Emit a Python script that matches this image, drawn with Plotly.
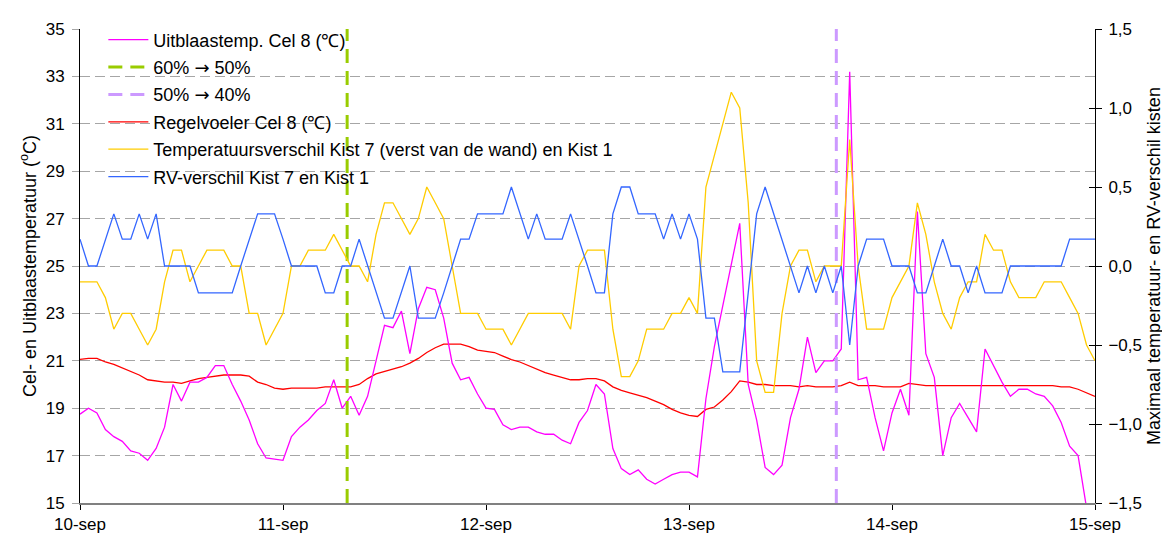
import pandas as pd
import plotly.graph_objects as go

# hourly readings from 10-sep 00:00
start = pd.Timestamp("2009-09-10 00:00")

uitblaas = [18.75, 19.0, 18.8, 18.1, 17.8, 17.6, 17.2, 17.1, 16.8, 17.3,
            18.2, 20.0, 19.3, 20.1, 20.1, 20.3, 20.8, 20.8, 20.0, 19.3,
            18.5, 17.5, 16.9, 16.85, 16.8,
            17.8, 18.2, 18.5, 18.9, 19.2, 20.2, 19.0, 19.5, 18.7, 19.5,
            21.0, 22.5, 22.4, 23.1, 21.3, 23.2, 24.1, 24.0, 22.8, 20.9,
            20.2, 20.3, 19.6, 19.0,
            18.95, 18.3, 18.1, 18.2, 18.2, 18.0, 17.9, 17.9, 17.65, 17.5,
            18.4, 18.9, 20.0, 19.6, 17.3, 16.45, 16.2, 16.4, 16.0, 15.8,
            16.0, 16.2, 16.3, 16.3,
            16.1, 19.4, 21.6, 23.3, 25.0, 26.8, 20.0, 18.5, 16.5, 16.2,
            16.6, 18.6, 19.8, 22.0, 20.5, 21.0, 21.0, 21.5, 33.2, 20.2,
            20.3, 18.6, 17.2, 18.8,
            19.8, 18.7, 27.3, 21.3, 20.3, 17.0, 18.6, 19.2, 18.6, 18.0,
            21.5, 20.8, 20.1, 19.5, 19.8, 19.8, 19.6, 19.5, 19.1, 18.4,
            17.4, 17.0, 14.8]

regelvoeler = [21.06, 21.1, 21.1, 20.95, 20.85, 20.7, 20.55, 20.4, 20.2, 20.15,
               20.1, 20.1, 20.05, 20.15, 20.25, 20.3, 20.35, 20.4, 20.4, 20.4,
               20.35, 20.1, 20.0, 19.85, 19.8,
               19.85, 19.85, 19.85, 19.85, 19.9, 19.9, 19.9, 19.9, 20.0, 20.25,
               20.45, 20.55, 20.65, 20.75, 20.9, 21.1, 21.35, 21.55, 21.7, 21.7,
               21.7, 21.6, 21.45, 21.4,
               21.35, 21.2, 21.05, 20.95, 20.8, 20.65, 20.5, 20.4, 20.3, 20.2,
               20.2, 20.25, 20.25, 20.15, 19.9, 19.75, 19.65, 19.55, 19.45, 19.3,
               19.15, 18.95, 18.8, 18.7,
               18.65, 18.95, 19.05, 19.35, 19.7, 20.15, 20.1, 20.0, 20.0, 19.95,
               19.95, 19.95, 19.9, 19.95, 19.9, 19.9, 19.9, 19.95, 20.1, 19.95,
               19.95, 19.95, 19.9, 19.9,
               19.9, 20.05, 20.0, 19.95, 19.95, 19.95, 19.95, 19.95, 19.95, 19.95,
               19.95, 19.95, 19.95, 19.95, 19.95, 19.95, 19.95, 19.95, 19.95, 19.9,
               19.9, 19.8, 19.65, 19.5]

temp_verschil = [-0.1, -0.1, -0.1, -0.2, -0.4, -0.3, -0.3, -0.4, -0.5, -0.4,
                 -0.1, 0.1, 0.1, -0.1, 0.0, 0.1, 0.1, 0.1, 0.0, 0.0,
                 -0.3, -0.3, -0.5, -0.4, -0.3,
                 0.0, 0.0, 0.1, 0.1, 0.1, 0.2, 0.1, 0.0, 0.0, -0.1,
                 0.2, 0.4, 0.4, 0.3, 0.2, 0.3, 0.5, 0.4, 0.3, 0.0,
                 -0.3, -0.3, -0.3, -0.4,
                 -0.4, -0.4, -0.5, -0.4, -0.3, -0.3, -0.3, -0.3, -0.3, -0.4,
                 0.0, 0.1, 0.1, 0.1, -0.4, -0.7, -0.7, -0.6, -0.4, -0.4,
                 -0.4, -0.3, -0.3, -0.2,
                 -0.3, 0.5, 0.7, 0.9, 1.1, 1.0, 0.4, -0.6, -0.8, -0.8,
                 -0.3, 0.0, 0.1, 0.1, -0.1, 0.0, 0.0, 0.0, 0.8, 0.0,
                 -0.4, -0.4, -0.4, -0.2,
                 -0.1, 0.0, 0.4, 0.2, -0.1, -0.3, -0.4, -0.2, -0.1, -0.1,
                 0.2, 0.1, 0.1, -0.1, -0.2, -0.2, -0.2, -0.1, -0.1, -0.1,
                 -0.2, -0.3, -0.5, -0.6]

rv_verschil = [0.17, 0, 0, 0.17, 0.33, 0.17, 0.17, 0.33, 0.17, 0.33,
               0, 0, 0, 0, -0.17, -0.17, -0.17, -0.17, -0.17, 0,
               0.17, 0.33, 0.33, 0.33, 0.17,
               0, 0, 0, 0, -0.17, -0.17, 0, 0, 0.17, 0,
               -0.17, -0.33, -0.33, -0.17, 0, -0.33, -0.33, -0.33, -0.17, 0,
               0.17, 0.17, 0.33, 0.33,
               0.33, 0.33, 0.5, 0.33, 0.17, 0.33, 0.17, 0.17, 0.17, 0.33,
               0.17, 0, -0.17, -0.17, 0.33, 0.5, 0.5, 0.33, 0.33, 0.33,
               0.17, 0.33, 0.17, 0.33,
               0.17, -0.33, -0.33, -0.67, -0.67, -0.67, -0.17, 0.33, 0.5, 0.33,
               0.17, 0, -0.17, 0, -0.17, 0, -0.17, 0, -0.5, 0,
               0.17, 0.17, 0.17, 0,
               0, 0, -0.17, -0.17, 0, 0.17, 0, 0, -0.17, 0,
               -0.17, -0.17, -0.17, 0, 0, 0, 0, 0, 0, 0,
               0.17, 0.17, 0.17, 0.17]

switch_times = ["2009-09-11 07:35", "2009-09-13 17:25"]
ARROW = "<span style='font-family:DejaVu Sans'>\u2192</span>"
switch_names = ["60% " + ARROW + " 50%", "50% " + ARROW + " 40%"]

day_ticks = ["2009-09-10", "2009-09-11", "2009-09-12", "2009-09-13", "2009-09-14", "2009-09-15"]
day_labels = ["10-sep", "11-sep", "12-sep", "13-sep", "14-sep", "15-sep"]


def hours(values):
    return start + pd.to_timedelta(range(len(values)), unit="h")


FONT = "Arial, Liberation Sans, sans-serif"
TICK_FS = 17
TEXT_FS = 18

fig = go.Figure()

fig.add_trace(go.Scatter(x=hours(temp_verschil), y=temp_verschil, yaxis="y2", mode="lines",
                         name="Temperatuursverschil Kist 7 (verst van de wand) en Kist 1",
                         line=dict(color="#FFCC00", width=1.3), legendgroup="e", legendrank=5))
fig.add_trace(go.Scatter(x=hours(rv_verschil), y=rv_verschil, yaxis="y2", mode="lines",
                         name="RV-verschil Kist 7 en Kist 1",
                         line=dict(color="#3366FF", width=1.3), legendgroup="f", legendrank=6))
fig.add_trace(go.Scatter(x=hours(regelvoeler), y=regelvoeler, mode="lines",
                         name="Regelvoeler Cel 8 (\u2103)",
                         line=dict(color="#FF0000", width=1.3), legendgroup="d", legendrank=4))
fig.add_trace(go.Scatter(x=hours(uitblaas), y=uitblaas, mode="lines",
                         name="Uitblaastemp. Cel 8 (\u2103)",
                         line=dict(color="#FF00FF", width=1.3), legendgroup="a", legendrank=1))

for t, name, col, grp, rank in zip(switch_times, switch_names, ["#99CC00", "#CC99FF"], ["b", "c"], [2, 3]):
    fig.add_trace(go.Scatter(x=[t, t], y=[15, 35], mode="lines", name=name,
                             line=dict(color=col, width=3, dash="14px,8px"),
                             legendgroup=grp, legendrank=rank))

# invisible helper so the right axis gets ticks on both sides
fig.add_trace(go.Scatter(x=[day_ticks[0]], y=[0], yaxis="y3", mode="markers",
                         marker=dict(opacity=0), showlegend=False, hoverinfo="skip"))

fig.update_layout(
    width=1170, height=538,
    margin=dict(l=72, r=83, t=19, b=36),
    paper_bgcolor="white", plot_bgcolor="white",
    font=dict(family=FONT, size=TICK_FS, color="black"),
    separators=", ",
    showlegend=True,
    legend=dict(x=0.023, y=1.016, xanchor="left", yanchor="top",
                bgcolor="rgba(0,0,0,0)", font=dict(size=TEXT_FS),
                tracegroupgap=1, traceorder="grouped", itemwidth=40),
    xaxis=dict(range=[day_ticks[0], day_ticks[-1]], tickvals=day_ticks, ticktext=day_labels,
               showgrid=False, showline=True, linecolor="#808080", linewidth=2,
               ticks="outside", ticklen=5, tickcolor="black", zeroline=False),
    yaxis=dict(range=[15, 35], tick0=15, dtick=2, showgrid=True, gridcolor="#a6a6a6",
               griddash="10px,5px", showline=True, linecolor="black", linewidth=1,
               ticks="outside", ticklen=7, tickcolor="#a6a6a6", zeroline=False,
               ticklabelstandoff=4,
               title=dict(text="Cel- en Uitblaastemperatuur (<sup>o</sup>C)", standoff=4,
                          font=dict(size=TEXT_FS))),
    yaxis2=dict(range=[-1.5, 1.5], dtick=0.5, tickformat=".1f", overlaying="y", side="right",
                showgrid=False, showline=True, linecolor="black", linewidth=1,
                ticks="outside", ticklen=6, tickcolor="black", zeroline=False,
                ticklabelstandoff=3,
                title=dict(text="Maximaal temperatuur- en RV-verschil kisten", standoff=6,
                           font=dict(size=TEXT_FS))),
    yaxis3=dict(range=[-1.5, 1.5], dtick=0.5, overlaying="y", side="right",
                showgrid=False, showline=False, showticklabels=False,
                ticks="inside", ticklen=6, tickcolor="black", zeroline=False),
)

fig.write_html("out.html")
